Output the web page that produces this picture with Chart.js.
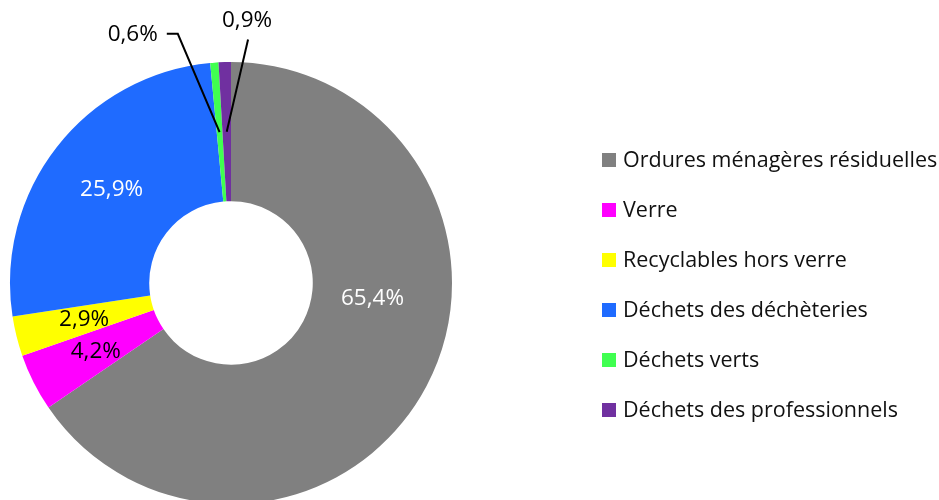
<!DOCTYPE html>
<html><head><meta charset="utf-8">
<script src="https://cdn.jsdelivr.net/npm/chart.js@4"></script>
<style>html,body{margin:0;padding:0;overflow:hidden;background:#fff;width:939px;height:500px}canvas{display:block}</style>
</head><body>
<canvas id="c" width="939" height="566" style="width:939px;height:566px"></canvas>
<script>
const categories = ['Ordures ménagères résiduelles','Verre','Recyclables hors verre','Déchets des déchèteries','Déchets verts','Déchets des professionnels'];
const shares = [65.4, 4.2, 2.9, 25.9, 0.6, 0.9];
const valueLabels = ['65,4%','4,2%','2,9%','25,9%','0,6%','0,9%'];
const sliceColors = ['#808080','#FF00FF','#FFFF00','#1F6BFF','#40FF50','#7030A0'];
const labelColors = ['#FFFFFF','#000000','#000000','#FFFFFF','#000000','#000000'];

const FONT = '"Open Sans", "Liberation Sans", sans-serif';
const labelFontSize = 22.5;
// label placement style (angle shift in degrees, radius factor) or outside callouts
const placement = {
  0: {shift: -21.7, rf: 0.94},
  4: {outside: true, angle: -21.6, r: 1.208, leader: 'side'},
  5: {outside: true, angle: 3.5, r: 1.19, leader: 'below'}
};
const legendStyle = {x: 602, y: 160, step: 50, box: 14, gap: 7, size: 21.5};

const overlay = {
  id: 'overlay',
  afterDatasetsDraw(chart) {
    const ctx = chart.ctx;
    const meta = chart.getDatasetMeta(0);
    ctx.save();
    meta.data.forEach((arc, i) => {
      const {x, y, startAngle, endAngle, innerRadius, outerRadius} =
        arc.getProps(['x','y','startAngle','endAngle','innerRadius','outerRadius'], true);
      const mid = (startAngle + endAngle) / 2;
      const rMid = (innerRadius + outerRadius) / 2;
      const p = placement[i] || {};
      ctx.font = labelFontSize + 'px ' + FONT;
      ctx.fillStyle = labelColors[i];
      ctx.textAlign = 'center';
      ctx.textBaseline = 'middle';
      if (p.outside) {
        const a = -Math.PI / 2 + p.angle * Math.PI / 180;
        const lx = x + Math.cos(a) * p.r * outerRadius;
        const ly = y + Math.sin(a) * p.r * outerRadius;
        ctx.fillText(valueLabels[i], lx, ly);
        const ax = x + Math.cos(mid) * rMid, ay = y + Math.sin(mid) * rMid;
        ctx.strokeStyle = '#000';
        ctx.lineWidth = 2;
        ctx.beginPath();
        if (p.leader === 'side') {
          const w = ctx.measureText(valueLabels[i]).width;
          ctx.moveTo(lx + w / 2 + 9, ly - 1);
          ctx.lineTo(lx + w / 2 + 20, ly - 1);
        } else {
          ctx.moveTo(lx + 1, ly + 19);
        }
        ctx.lineTo(ax, ay);
        ctx.stroke();
      } else {
        const a = mid + (p.shift || 0) * Math.PI / 180;
        const r = rMid * (p.rf || 1);
        ctx.fillText(valueLabels[i], x + Math.cos(a) * r, y + Math.sin(a) * r);
      }
    });
    // legend
    ctx.textAlign = 'left';
    ctx.textBaseline = 'middle';
    ctx.font = legendStyle.size + 'px ' + FONT;
    chart.data.labels.forEach((lab, i) => {
      const cy = legendStyle.y + i * legendStyle.step;
      ctx.fillStyle = chart.data.datasets[0].backgroundColor[i];
      ctx.fillRect(legendStyle.x, cy - legendStyle.box / 2, legendStyle.box, legendStyle.box);
      ctx.fillStyle = '#111';
      ctx.fillText(lab, legendStyle.x + legendStyle.box + legendStyle.gap, cy + 1);
    });
    ctx.restore();
  }
};

new Chart(document.getElementById('c'), {
  type: 'doughnut',
  data: {
    labels: categories,
    datasets: [{data: shares, backgroundColor: sliceColors, borderWidth: 0}]
  },
  options: {
    responsive: false,
    animation: false,
    cutout: '37%',
    layout: {padding: {left: 10, right: 487, top: 62, bottom: 62}},
    plugins: {legend: {display: false}, tooltip: {enabled: false}}
  },
  plugins: [overlay]
});
</script>
</body></html>
